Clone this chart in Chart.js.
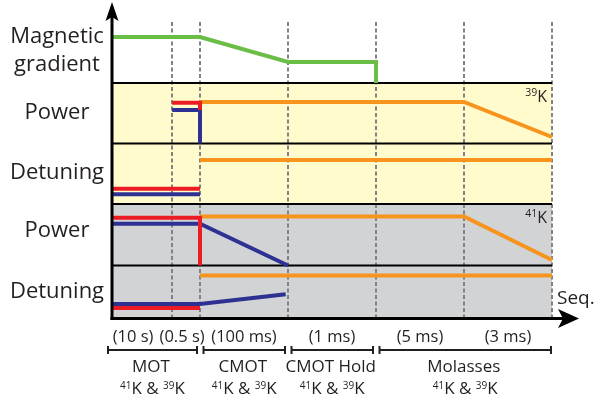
<!DOCTYPE html>
<html>
<head>
<meta charset="utf-8">
<script src="https://cdn.jsdelivr.net/npm/chart.js@4.4.1/dist/chart.umd.min.js"></script>
<style>
  html, body { margin: 0; padding: 0; background: #ffffff; }
  canvas { display: block; }
</style>
</head>
<body>
<canvas id="seq" width="596" height="401"></canvas>
<script>
// ---- Sequence time axis (schematic: one slot per step, not to scale) ----
const stepEdges = [0, 2.05, 3, 6, 9, 12, 15];
const stepDurations = ['(10 s)', '(0.5 s)', '(100 ms)', '(1 ms)', '(5 ms)', '(3 ms)'];
const phaseNames = ['MOT', 'CMOT', 'CMOT Hold', 'Molasses'];
const phaseSpans = [[0, 3], [3, 6], [6, 9], [9, 15]];

// ---- Signal rows on the shared level axis: [bottom, top] ----
const rowNames = [['Magnetic', 'gradient'], ['Power'], ['Detuning'], ['Power'], ['Detuning']];
const rowBands = [[23.5, 30], [17.45, 23.5], [11.4, 17.45], [5.25, 11.4], [0, 5.25]];
const rowIsotopes = [null, '39', null, '41', null];

// ---- Traces: [time, level] ----
const gradient       = [[0, 28.1], [3, 28.1], [6, 25.6], [9, 25.6], [9, 23.5]];

const k39PowerRed    = [[2.05, 21.52], [3, 21.52], [3, 20.8]];
const k39PowerBlue   = [[2.05, 20.8], [3, 20.8], [3, 17.45]];
const k39PowerOrange = [[3, 21.6], [12, 21.6], [15, 18.1]];

const k39DetRed      = [[0, 12.93], [3, 12.93]];
const k39DetBlue     = [[0, 12.38], [3, 12.38]];
const k39DetOrange   = [[3, 15.8], [15, 15.8]];

const k41PowerRed    = [[0, 10.03], [3, 10.03], [3, 5.25]];
const k41PowerBlue   = [[0, 9.42], [3, 9.42], [6, 5.25]];
const k41PowerOrange = [[3, 10.15], [12, 10.15], [15, 5.8]];

const k41DetRed      = [[0, 1.0], [3, 1.0]];
const k41DetBlue     = [[0, 1.4], [3, 1.4], [5.92, 2.37]];
const k41DetOrange   = [[3, 4.25], [15, 4.25]];

// ---- Styling ----
const COLORS = {
  green: '#6abd45', red: '#ed1c24', blue: '#2e3192', orange: '#f7941d',
  yellow: '#fffbcc', gray: '#d1d3d4', dash: '#808285', ink: '#231f20'
};
const FONT = '"Open Sans", "DejaVu Sans", sans-serif';

const toXY = pts => pts.map(([x, y]) => ({ x, y }));
const trace = (label, pts, color) => ({
  label, data: toXY(pts), borderColor: color, backgroundColor: color,
  borderWidth: 4, pointRadius: 0, tension: 0, fill: false,
  borderCapStyle: 'butt', borderJoinStyle: 'miter', clip: false
});

// Draws a run of text pieces (e.g. superscript mass numbers) from x, on baseline y.
function drawRuns(ctx, runs, x, y, align) {
  let total = 0;
  const widths = runs.map(r => {
    ctx.font = `${r.size}px ${FONT}`;
    const w = ctx.measureText(r.text).width;
    total += w;
    return w;
  });
  let cx = align === 'center' ? x - total / 2 : align === 'right' ? x - total : x;
  ctx.textAlign = 'left';
  ctx.textBaseline = 'alphabetic';
  runs.forEach((r, i) => {
    ctx.font = `${r.size}px ${FONT}`;
    ctx.fillText(r.text, cx, y - (r.rise || 0));
    cx += widths[i];
  });
}
const isoPair = (big, small, rise) => [
  { text: '41', size: small, rise }, { text: 'K', size: big }, { text: ' & ', size: big },
  { text: '39', size: small, rise }, { text: 'K', size: big }
];

const sequencePlugin = {
  id: 'sequenceFrame',
  beforeDraw(chart) {
    const { ctx } = chart;
    ctx.save();
    ctx.fillStyle = '#ffffff';
    ctx.fillRect(0, 0, chart.width, chart.height);
    ctx.restore();
  },
  beforeDatasetsDraw(chart) {
    const { ctx, scales: { x, y } } = chart;
    const xl = x.getPixelForValue(stepEdges[0]);
    const xr = x.getPixelForValue(stepEdges[stepEdges.length - 1]);
    ctx.save();
    // row backgrounds: 39K rows yellow, 41K rows gray
    rowBands.forEach((b, i) => {
      if (i === 0) return;
      ctx.fillStyle = i <= 2 ? COLORS.yellow : COLORS.gray;
      const top = y.getPixelForValue(b[1]);
      const bot = y.getPixelForValue(b[0]);
      ctx.fillRect(xl, top, xr - xl, bot - top);
    });
    // step boundaries
    ctx.strokeStyle = COLORS.dash;
    ctx.lineWidth = 2;
    ctx.setLineDash([4, 2.5]);
    stepEdges.slice(1).forEach(v => {
      const px = Math.round(x.getPixelForValue(v));
      ctx.beginPath();
      ctx.moveTo(px, y.getPixelForValue(29.6));
      ctx.lineTo(px, y.getPixelForValue(0));
      ctx.stroke();
    });
    ctx.setLineDash([]);
    // row separators
    ctx.strokeStyle = '#000000';
    ctx.lineWidth = 2;
    rowBands.slice(1).forEach(b => {
      const py = y.getPixelForValue(b[1]);
      ctx.beginPath();
      ctx.moveTo(xl, py);
      ctx.lineTo(xr, py);
      ctx.stroke();
    });
    ctx.restore();
  },
  afterDatasetsDraw(chart) {
    const { ctx, chartArea: ca, scales: { x, y } } = chart;
    const ox = x.getPixelForValue(0);
    const oy = y.getPixelForValue(0) + 0.5;
    ctx.save();
    ctx.fillStyle = '#000000';
    ctx.strokeStyle = '#000000';
    // vertical axis with arrow head
    ctx.lineWidth = 3;
    ctx.beginPath();
    ctx.moveTo(ox, oy + 1.5);
    ctx.lineTo(ox, 17);
    ctx.stroke();
    ctx.beginPath();
    ctx.moveTo(ox, 2);
    ctx.lineTo(ox + 6.5, 21);
    ctx.lineTo(ox, 17);
    ctx.lineTo(ox - 6.5, 21);
    ctx.closePath();
    ctx.fill();
    // horizontal axis with arrow head
    const tipX = ca.right + 27;
    ctx.beginPath();
    ctx.moveTo(ox - 1.5, oy);
    ctx.lineTo(tipX - 16, oy);
    ctx.stroke();
    ctx.beginPath();
    ctx.moveTo(tipX, oy);
    ctx.lineTo(tipX - 21, oy - 9.5);
    ctx.lineTo(tipX - 16, oy);
    ctx.lineTo(tipX - 21, oy + 9.5);
    ctx.closePath();
    ctx.fill();

    ctx.fillStyle = COLORS.ink;
    // row titles
    const titleX = ox - 55;
    const titleBaselines = [[43, 70.5], [119], [179], [237], [298]];
    ctx.font = `22px ${FONT}`;
    ctx.textAlign = 'center';
    ctx.textBaseline = 'alphabetic';
    rowNames.forEach((lines, i) => {
      lines.forEach((t, j) => ctx.fillText(t, titleX, titleBaselines[i][j]));
    });
    // isotope tags in the top-right corner of each species block
    rowIsotopes.forEach((m, i) => {
      if (!m) return;
      const top = y.getPixelForValue(rowBands[i][1]);
      drawRuns(ctx, [{ text: m, size: 10.5, rise: 6.5 }, { text: 'K', size: 16 }],
        ca.right - 5, top + 19, 'right');
    });
    // "Seq." axis title
    ctx.font = `19px ${FONT}`;
    ctx.textAlign = 'left';
    ctx.fillText('Seq.', ca.right + 5, oy - 14.5);

    // step durations under the axis
    const nudge = [-9, -4, 0, 0, 0, 0];
    ctx.font = `16.5px ${FONT}`;
    ctx.textAlign = 'center';
    stepDurations.forEach((t, i) => {
      const mid = (x.getPixelForValue(stepEdges[i]) + x.getPixelForValue(stepEdges[i + 1])) / 2;
      ctx.fillText(t, mid + nudge[i], oy + 23);
    });

    // phase brackets and names
    const by = oy + 31.5;
    ctx.strokeStyle = COLORS.ink;
    ctx.lineWidth = 2;
    phaseSpans.forEach((s, i) => {
      const x0 = x.getPixelForValue(s[0]) + (i === 0 ? -5 : 2.5);
      const x1 = x.getPixelForValue(s[1]) - (i === phaseSpans.length - 1 ? 0 : 2);
      ctx.beginPath();
      ctx.moveTo(x0, by); ctx.lineTo(x1, by);
      ctx.moveTo(x0 + 1, by - 4); ctx.lineTo(x0 + 1, by + 4);
      ctx.moveTo(x1 - 1, by - 4); ctx.lineTo(x1 - 1, by + 4);
      ctx.stroke();
      const mid = (x0 + x1) / 2;
      ctx.font = `17px ${FONT}`;
      ctx.textAlign = 'center';
      ctx.fillText(phaseNames[i], mid - 1.5, oy + 53.5);
      drawRuns(ctx, isoPair(17, 10, 5.5), mid, oy + 75.5, 'center');
    });
    ctx.restore();
  }
};

function build() {
  new Chart(document.getElementById('seq'), {
    type: 'line',
    data: {
      datasets: [
        trace('Magnetic gradient', gradient, COLORS.green),
        trace('39K power (red)', k39PowerRed, COLORS.red),
        trace('39K power (blue)', k39PowerBlue, COLORS.blue),
        trace('39K power (orange)', k39PowerOrange, COLORS.orange),
        trace('39K detuning (red)', k39DetRed, COLORS.red),
        trace('39K detuning (blue)', k39DetBlue, COLORS.blue),
        trace('39K detuning (orange)', k39DetOrange, COLORS.orange),
        trace('41K power (red)', k41PowerRed, COLORS.red),
        trace('41K power (blue)', k41PowerBlue, COLORS.blue),
        trace('41K power (orange)', k41PowerOrange, COLORS.orange),
        trace('41K detuning (red)', k41DetRed, COLORS.red),
        trace('41K detuning (blue)', k41DetBlue, COLORS.blue),
        trace('41K detuning (orange)', k41DetOrange, COLORS.orange)
      ]
    },
    options: {
      responsive: false,
      animation: false,
      events: [],
      layout: { padding: { left: 112, right: 44, top: 18, bottom: 83 } },
      scales: {
        x: { type: 'linear', min: 0, max: 15, display: false },
        y: { type: 'linear', min: 0, max: 30, display: false }
      },
      plugins: { legend: { display: false }, tooltip: { enabled: false } }
    },
    plugins: [sequencePlugin]
  });
}

const fontsReady = document.fonts && document.fonts.load
  ? Promise.all([document.fonts.load(`22px ${FONT}`), document.fonts.load(`10px ${FONT}`)])
  : Promise.resolve();
fontsReady.then(build, build);
</script>
</body>
</html>
